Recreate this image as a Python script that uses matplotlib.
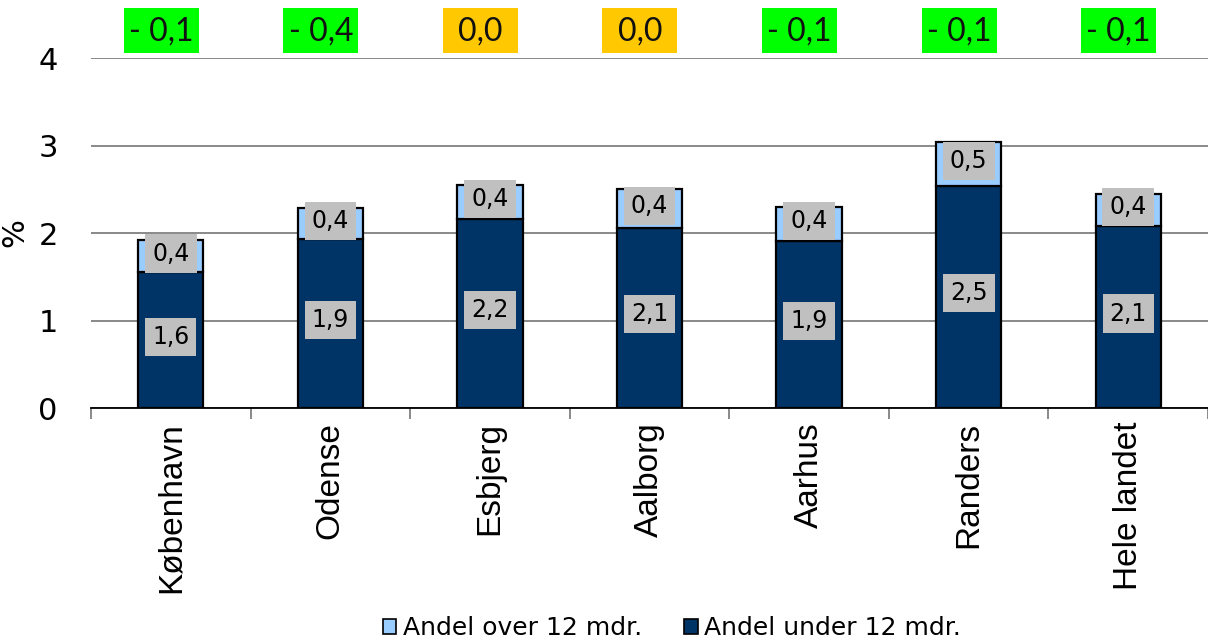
import matplotlib
matplotlib.use('Agg')
from matplotlib import pyplot as plt
from matplotlib.patches import Rectangle, Patch
import matplotlib.transforms as mtransforms

# data
cities = ['København', 'Odense', 'Esbjerg', 'Aalborg', 'Aarhus', 'Randers', 'Hele landet']
under_12 = [1.55, 1.93, 2.16, 2.06, 1.91, 2.54, 2.08]
over_12 = [0.37, 0.36, 0.39, 0.44, 0.39, 0.50, 0.37]
changes = [-0.1, -0.4, 0.0, 0.0, -0.1, -0.1, -0.1]

dark = '#003366'
light = '#99CCFF'


def fmt(v):
    return f'{v:.1f}'.replace('.', ',')


fig = plt.figure(figsize=(12.08, 6.42), dpi=100)
ax = fig.add_axes([91 / 1208, 234 / 642, 1117 / 1208, 350 / 642])

x = list(range(len(cities)))
w = 0.41
ax.bar(x, under_12, w, color=dark, edgecolor='black', linewidth=1.6, zorder=3)
ax.bar(x, over_12, w, bottom=under_12, color=light, edgecolor='black',
       linewidth=1.6, zorder=3)

# data labels in grey boxes
box = dict(boxstyle='square,pad=0.3', fc='#C0C0C0', ec='none')
for i in x:
    ax.text(i, under_12[i] / 2 + 0.04, fmt(under_12[i]), ha='center',
            va='center', fontsize=17, family='DejaVu Sans', bbox=box, zorder=4)
    ax.text(i, under_12[i] + over_12[i] / 2 + 0.03, fmt(over_12[i]),
            ha='center', va='center', fontsize=17, family='DejaVu Sans',
            bbox=box, zorder=4)

# change boxes above the plot
trans = mtransforms.blended_transform_factory(ax.transData, ax.transAxes)
for i, c in enumerate(changes):
    col = '#FFC800' if c == 0 else '#00FF00'
    txt = fmt(abs(c)) if c == 0 else '- ' + fmt(abs(c))
    cx = i - 0.06
    ax.add_patch(Rectangle((cx - 0.235, 1.0143), 0.47, 0.1286, transform=trans,
                           facecolor=col, edgecolor='none', clip_on=False))
    ax.text(cx, 1.075, txt, transform=trans, ha='center', va='center',
            fontsize=23, family='Lato', color='#111111')

ax.set_xlim(-0.5, 6.42)
ax.set_ylim(0, 4)
ax.set_yticks([0, 1, 2, 3, 4])
ax.set_yticklabels(['0', '1', '2', '3', '4'], fontsize=22, family='DejaVu Sans')
ax.tick_params(axis='y', length=0, pad=24)
ax.yaxis.grid(True, color='#808080', linewidth=1.3, zorder=0)
ax.set_axisbelow(True)

ax.set_xticks(x)
ax.set_xticklabels(cities, rotation=90, fontsize=24, family='Liberation Sans')
ax.tick_params(axis='x', length=0, pad=10)
ax.set_xticks([i - 0.5 for i in range(len(cities) + 1)], minor=True)
ax.tick_params(axis='x', which='minor', length=8, width=1.3, color='#808080',
               direction='out')

for s in ['top', 'right', 'left']:
    ax.spines[s].set_visible(False)
ax.spines['bottom'].set_color('black')
ax.spines['bottom'].set_linewidth(1.3)

ax.set_ylabel('%', fontsize=22, family='DejaVu Sans', labelpad=6)

handles = [Patch(facecolor=light, edgecolor='black', linewidth=1.2),
           Patch(facecolor=dark, edgecolor='black', linewidth=1.2)]
fig.legend(handles, ['Andel over 12 mdr.', 'Andel under 12 mdr.'],
           loc='center', bbox_to_anchor=(672 / 1208, 14 / 642), ncol=2,
           frameon=False, handlelength=0.55, handleheight=0.55,
           handletextpad=0.25, columnspacing=1.7,
           prop={'family': 'DejaVu Sans', 'size': 18})

fig.savefig('out.png', dpi=100)
